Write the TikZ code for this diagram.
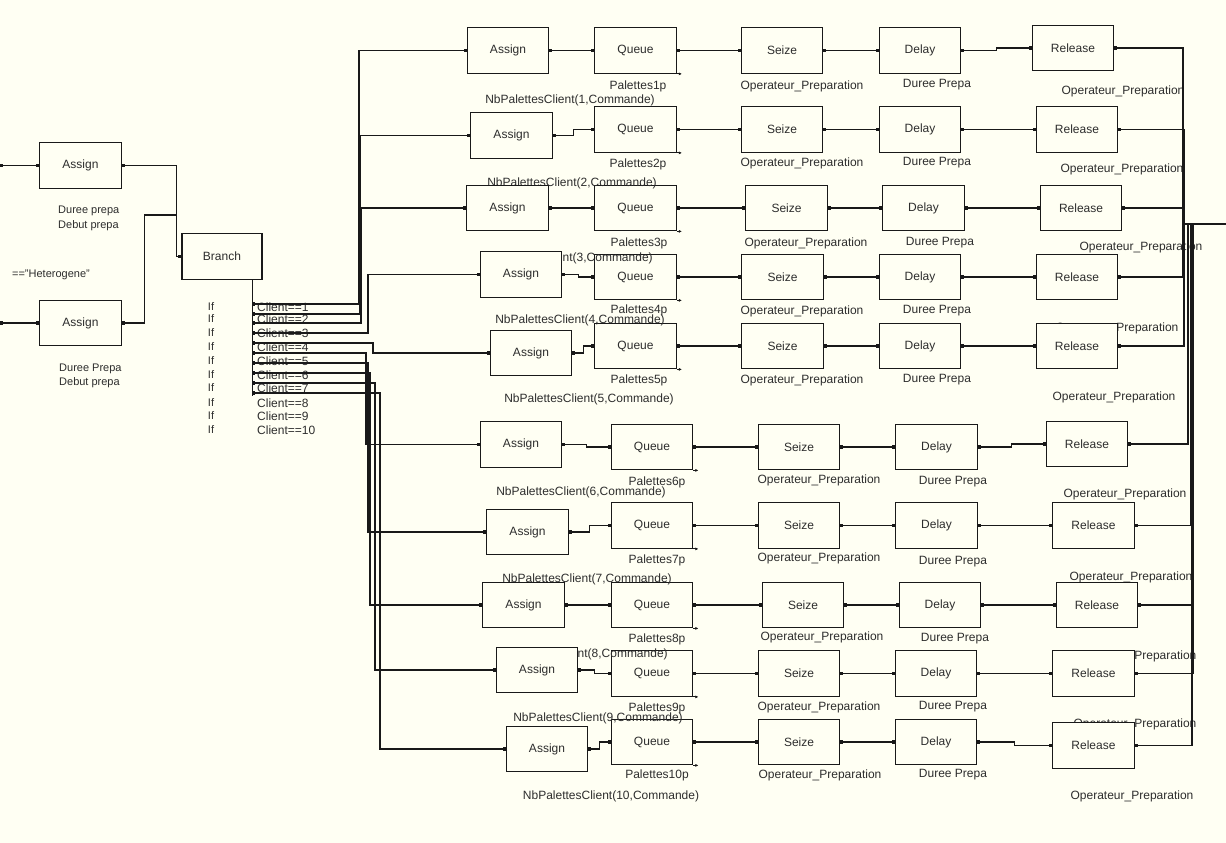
\documentclass[tikz,border=0pt]{standalone}
\usepackage{fontspec}
\setmainfont{Liberation Sans}
\usetikzlibrary{arrows.meta,calc}
\definecolor{bg}{RGB}{255,255,243}
\definecolor{ink}{RGB}{25,25,25}
\definecolor{txt}{RGB}{45,45,45}
\tikzset{
  box/.style={draw=ink, line width=1.3pt, fill=bg, minimum width=81.5pt, minimum height=45.5pt, inner sep=0pt, text=txt, font=\fontsize{12}{14}\selectfont},
  lbl/.style={inner sep=0pt, text=txt, font=\fontsize{12}{14}\selectfont},
  lbls/.style={lbl, font=\fontsize{11}{13}\selectfont},
  wire/.style={draw=ink, line width=1.1pt},
  conn/.style={wire, {Square[length=3pt,width=3.5pt]}-{Square[length=3pt,width=3.5pt]}},
  hvh/.style={to path={-| ($(\tikztostart)!0.5!(\tikztotarget)$) |- (\tikztotarget) \tikztonodes}},
  stub/.style={wire, -{Latex[length=3pt,width=3pt]}}
}
\begin{document}
\begin{tikzpicture}[x=1pt,y=-1pt]
\useasboundingbox (0,0) rectangle (1226,843);
\fill[bg] (0,0) rectangle (1226,843);

% Queue, Seize, Delay boxes (drawn under the labels)
\foreach \rw/\qx/\qy/\sx/\sy/\dx/\dy in {
1/635.5/50.5/782/50.5/920/50.5,
2/635.5/129.5/782/129.5/920/129.5,
3/635.5/208/786.5/208/923.5/208,
4/635.5/277/782.5/277/920/277,
5/635.5/346/782.5/346/920/346,
6/652/447/799/447/936.5/447,
7/652/525.5/799/525.5/936.5/525.5,
8/652/605/803/605/940/605,
9/652/673.5/799/673.5/936/673.5,
10/652/742/799/742/936/742}{
  \node[box] (Q\rw) at (\qx,\qy) {Queue};
  \node[box] (S\rw) at (\sx,\sy) {Seize};
  \node[box] (D\rw) at (\dx,\dy) {Delay};
}

% labels
\foreach \rw/\px/\py/\nx/\ny/\ox/\oy/\ux/\uy/\vx/\vy in {
1/638/86/570/100/802/86/937/85/1123/91,
2/638/164/572/183/802/163/937/163/1122/169,
3/639/243/568/258/806/243/940/243/1141/247,
4/639/310/580/320/802/311/937/311/1117/328,
5/639/380/589/399/802/380/937/380/1114/397,
6/657/482/581/492/819/480/953/482/1125/494,
7/657/560/587/579/819/558/953/562/1131/577,
8/657/639/583/654/822/637/955/639/1135/656,
9/657/708/598/718/819/707/953/707/1135/724,
10/657/775/611/796/820/775/953/775/1132/796}{
  \node[lbl] (pal\rw) at (\px,\py) {Palettes\rw p};
  \node[lbl] (nb\rw) at (\nx,\ny) {NbPalettesClient(\rw,Commande)};
  \node[lbl] (op\rw) at (\ox,\oy) {Operateur\_Preparation};
  \node[lbl] (du\rw) at (\ux,\uy) {Duree Prepa};
  \node[lbl] (or\rw) at (\vx,\vy) {Operateur\_Preparation};
}

\node[lbls,anchor=west] (dp1) at (58,211) {Duree prepa};
\node[lbls,anchor=west] (db1) at (58,226) {Debut prepa};
\node[lbls,anchor=west] (dp2) at (59,369) {Duree Prepa};
\node[lbls,anchor=west] (db2) at (59,383) {Debut prepa};
\node[lbls,anchor=east] (het) at (90,275) {=="Heterogene"};

\foreach \i/\y in {1/307,2/319,3/333,4/347,5/361,6/375,7/388,8/403,9/416,10/430}{
  \node[lbls] (if\i) at (211,\y) {If};
  \node[lbl,anchor=west] (cl\i) at (257,\y) {Client==\i};
}

% Assign and Release boxes (opaque over labels)
\foreach \rw/\ax/\ay/\zx/\zy in {
1/508/50.5/1073/48,
2/511.5/135.5/1077/129.5,
3/507.5/208/1081/208,
4/521/274.5/1077/277,
5/531/353/1077/346,
6/521/444.5/1087/444,
7/527.5/532/1093.5/525.5,
8/523.5/605/1097/605,
9/537/670/1093.5/673.5,
10/547/749/1093.5/745.5}{
  \node[box] (A\rw) at (\ax,\ay) {Assign};
  \node[box] (R\rw) at (\zx,\zy) {Release};
}

% left part
\node[box] (LA1) at (80.5,165.5) {Assign};
\node[box] (LA2) at (80.5,323) {Assign};
\node[box, minimum width=80pt] (B) at (222,256.5) {Branch};
\coordinate (inL1) at (0,165.5);
\coordinate (inL2) at (0,323);
\coordinate (jL) at (177,215);
\draw[conn] (inL1) -- (LA1.west);
\draw[conn] (inL2) -- (LA2.west);
\draw[conn] (LA1.east) -| ($(B.west)+(-5,0)$) -- (B.west);
\draw[wire,{Square[length=3pt,width=3.5pt]}-] (LA2.east) -- ++(23,0) |- (jL);
\coordinate (bo) at ($(B.south east)+(-10,0)$);
\draw[wire] (bo) -- ++(0,116);

% right collector
\coordinate (jR) at (1183,224);
\coordinate (outR) at (1226,224);
\draw[wire, line width=1.6pt] (jR) -- (outR);

% connectors
\foreach \rw/\ey/\bx/\cx in {
1/304/359/1183,
2/314/360/1184,
3/323/361/1184,
4/333/368/1183,
5/343/373/1184,
6/353/366/1188,
7/363/368/1191,
8/373/370/1193,
9/383/375/1193,
10/393/380/1192}{
  \coordinate (e\rw) at (252,\ey);
  \draw[conn] (e\rw) -- (\bx,\ey) |- (A\rw.west);
  \draw[conn] (A\rw.east) to[hvh] (Q\rw.west);
  \draw[conn] (Q\rw.east) to[hvh] (S\rw.west);
  \draw[conn] (S\rw.east) to[hvh] (D\rw.west);
  \draw[conn] (D\rw.east) to[hvh] (R\rw.west);
  \draw[wire,{Square[length=3pt,width=3.5pt]}-] (R\rw.east) -| (\cx,224);
  \draw[stub] (Q\rw.south east) -- ++(5,0);
}
\end{tikzpicture}
\end{document}
